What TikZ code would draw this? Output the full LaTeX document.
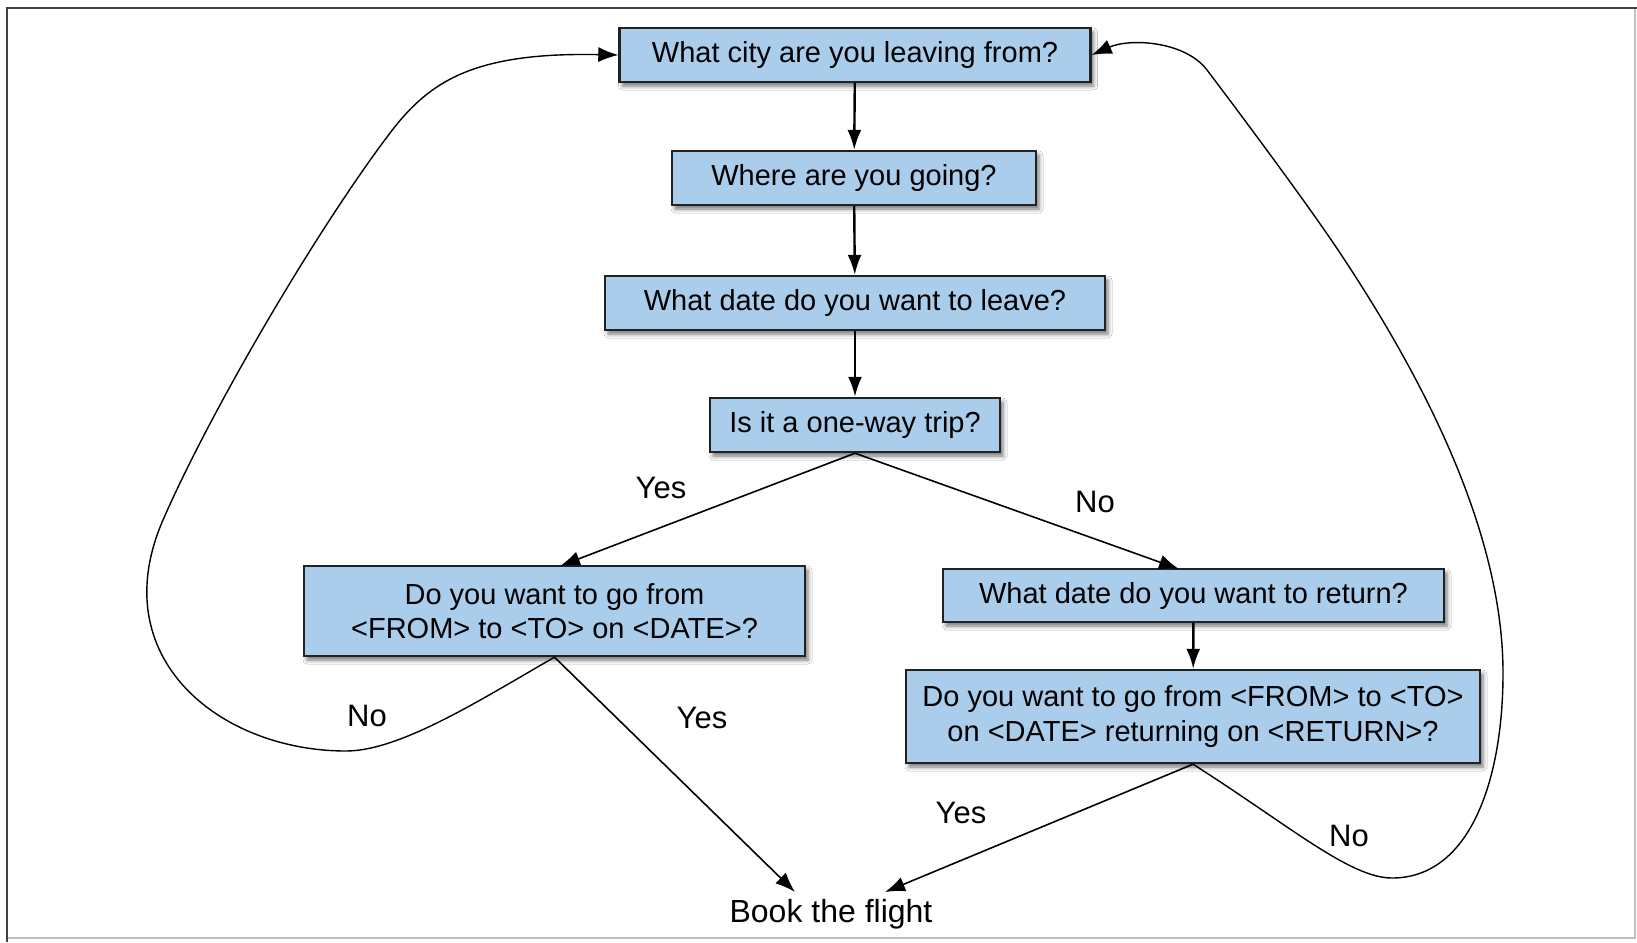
\documentclass[tikz,border=0pt]{standalone}
\usepackage{fontspec}
\setmainfont{Liberation Sans}
\usetikzlibrary{arrows.meta,shadows.blur,calc}
\definecolor{boxfill}{RGB}{170,205,235}
\definecolor{boxline}{RGB}{34,34,34}
\begin{document}
\begin{tikzpicture}[x=1pt,y=-1pt,
  qbox/.style={draw=boxline, line width=2.4pt, fill=boxfill, inner sep=0pt,
    align=center, font=\fontsize{29}{34.5}\selectfont,
    blur shadow={shadow xshift=3pt, shadow yshift=-4pt, shadow blur radius=4pt, shadow opacity=55}},
  lbl/.style={font=\fontsize{31}{36}\selectfont, inner sep=0pt},
  vflow/.style={line width=2.4pt, -{Latex[length=20pt,width=14pt]}},
  dflow/.style={line width=1.6pt, -{Latex[length=20pt,width=15pt]}},
  loopline/.style={line width=1.4pt, -{Latex[length=20pt,width=15pt]}}
]
\useasboundingbox (0,0) rectangle (1637,942);
\fill[white] (0,0) rectangle (1637,942);
% frame
\draw[line width=2pt, draw=black!25] (1635,8) -- (1635,938) -- (7,938);
\draw[line width=2pt, draw=black!75] (7,942) -- (7,8) -- (1637,8);

% boxes
\node[qbox, minimum width=471pt, minimum height=54pt] (b1) at (855,55) {What city are you leaving from?};
\node[qbox, minimum width=364pt, minimum height=54pt] (b2) at (854,178) {Where are you going?};
\node[qbox, minimum width=500pt, minimum height=54pt] (b3) at (855,303) {What date do you want to leave?};
\node[qbox, minimum width=290pt, minimum height=54pt] (b4) at (855,425) {Is it a one-way trip?};
\node[qbox, minimum width=501pt, minimum height=90pt] (b5) at (554.5,611) {Do you want to go from\\ {<}FROM{>} to {<}TO{>} on {<}DATE{>}?};
\node[qbox, minimum width=501pt, minimum height=53pt] (b6) at (1193.5,595.5) {What date do you want to return?};
\node[qbox, minimum width=574pt, minimum height=93pt] (b7) at (1193,716.5) {Do you want to go from {<}FROM{>} to {<}TO{>}\\ on {<}DATE{>} returning on {<}RETURN{>}?};
\node[font=\fontsize{32}{38}\selectfont, inner sep=0pt] (book) at (831,914) {Book the flight};

\coordinate (bkL) at (795,892);
\coordinate (bkR) at (885,892);
\coordinate (b6in) at (1179,569);
\coordinate (b5in) at (560,566);

% vertical flow
\draw[vflow] (b1) -- (b2);
\draw[vflow] (b2) -- (b3);
\draw[vflow] (b3) -- (b4);
\draw[vflow] (b6) -- (b7);

% diagonal flow
\draw[dflow] (b4.south) -- (b5in);
\draw[dflow] (b4.south) -- (b6in);
\draw[dflow] (b5.south) -- (bkL);
\draw[dflow] (b7.south) -- (bkR);

% loops
\draw[loopline] (b5.south) .. controls (480,700) and (400,751) .. (346,751)
  .. controls (220,751) and (103,658) .. (163,520)
  .. controls (211,410) and (315,233) .. (387,137)
  .. controls (427,83) and (470,52) .. (b1.west);
\draw[loopline] (b7.south) .. controls (1290,826) and (1350,878) .. (1392,878)
  .. controls (1470,878) and (1503,780) .. (1503,673)
  .. controls (1503,540) and (1432,391) .. (1340,253)
  .. controls (1307,203) and (1229,99) .. (1207,70)
  .. controls (1185,41) and (1130,38) .. (b1.east);

% labels
\node[lbl] (l1) at (661,488) {Yes};
\node[lbl] (l2) at (1095,502) {No};
\node[lbl] (l3) at (367,716) {No};
\node[lbl] (l4) at (702,718) {Yes};
\node[lbl] (l5) at (961,813) {Yes};
\node[lbl] (l6) at (1349,836) {No};
\end{tikzpicture}
\end{document}
